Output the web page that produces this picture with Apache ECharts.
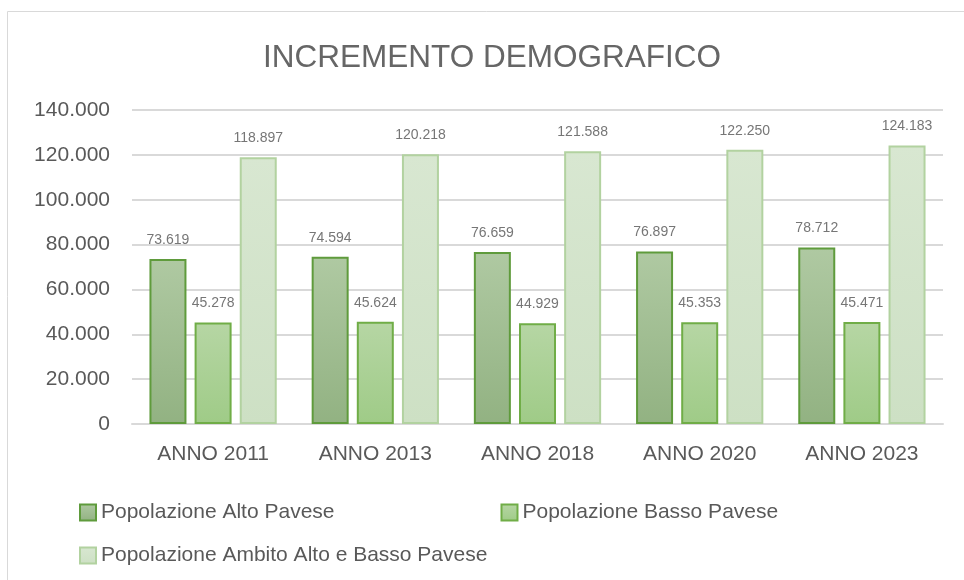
<!DOCTYPE html>
<html>
<head>
<meta charset="utf-8">
<script src="https://cdn.jsdelivr.net/npm/echarts@6/dist/echarts.min.js"></script>
<style>
  html, body { margin: 0; padding: 0; background: #fff; }
  #chart { width: 964px; height: 580px; }
</style>
</head>
<body>
<div id="chart"></div>
<script>
  let categories = ['ANNO 2011', 'ANNO 2013', 'ANNO 2018', 'ANNO 2020', 'ANNO 2023']
  let seriesNames = ['Popolazione Alto Pavese', 'Popolazione Basso Pavese', 'Popolazione Ambito Alto e Basso Pavese']
  let altoPavese = [73619, 74594, 76659, 76897, 78712]
  let bassoPavese = [45278, 45624, 44929, 45353, 45471]
  let ambito = [118897, 120218, 121588, 122250, 124183]

  let fmt = v => v === 0 ? '0' : String(Math.round(v)).replace(/\B(?=(\d{3})+(?!\d))/g, '.')
  let font = '"Liberation Sans", sans-serif'

  let grad = (a, b) => new echarts.graphic.LinearGradient(0, 0, 0, 1, [
    {offset: 0, color: a}, {offset: 1, color: b}
  ])
  let styles = [
    {color: grad('#afc9a2', '#92b282'), borderColor: '#5f9b3c'},
    {color: grad('#b6d6a4', '#9fcb87'), borderColor: '#70ad47'},
    {color: grad('#d8e7d1', '#cde0c4'), borderColor: '#b2d2a0'}
  ]

  let myChart = echarts.init(document.getElementById('chart'))
  let series = [altoPavese, bassoPavese, ambito].map((data, i) => ({
    name: seriesNames[i],
    type: 'bar',
    barWidth: 37,
    barGap: '22%',
    barCategoryGap: '22%',
    itemStyle: {color: styles[i].color, borderColor: styles[i].borderColor, borderWidth: 2},
    label: {
      show: true,
      position: 'top',
      distance: 12,
      formatter: p => fmt(p.value),
      color: '#767676',
      fontSize: 14,
      fontFamily: font
    },
    data: data
  }))

  let legendText = {color: '#595959', fontSize: 21, fontFamily: font}

  let option = {
    animation: false,
    graphic: [{
      type: 'rect',
      shape: {x: 7.5, y: 11.5, width: 1000, height: 600},
      style: {fill: 'none', stroke: '#d9d9d9', lineWidth: 1},
      silent: true
    }],
    title: {
      text: 'INCREMENTO DEMOGRAFICO',
      left: 258,
      top: 37,
      textStyle: {color: '#666666', fontSize: 31.5, fontWeight: 'normal', fontFamily: font}
    },
    legend: [
      {
        data: seriesNames.slice(0, 2),
        icon: 'rect',
        left: 74,
        top: 497,
        itemWidth: 16,
        itemHeight: 16,
        itemGap: 166,
        textStyle: legendText
      },
      {
        data: seriesNames.slice(2),
        icon: 'rect',
        left: 74,
        top: 540,
        itemWidth: 16,
        itemHeight: 16,
        textStyle: legendText
      }
    ],
    grid: {left: 132, right: 21, top: 110, bottom: 156},
    xAxis: {
      type: 'category',
      data: categories,
      axisLine: {lineStyle: {color: '#d9d9d9', width: 2}},
      axisTick: {show: false},
      axisLabel: {color: '#595959', fontSize: 21, margin: 20, fontFamily: font}
    },
    yAxis: {
      type: 'value',
      min: 0,
      max: 140000,
      interval: 20000,
      axisLine: {show: false},
      axisTick: {show: false},
      splitLine: {lineStyle: {color: '#d9d9d9', width: 2}},
      axisLabel: {color: '#595959', fontSize: 21, margin: 22, formatter: fmt, fontFamily: font}
    },
    series: series
  }
  myChart.setOption(option)
</script>
</body>
</html>
